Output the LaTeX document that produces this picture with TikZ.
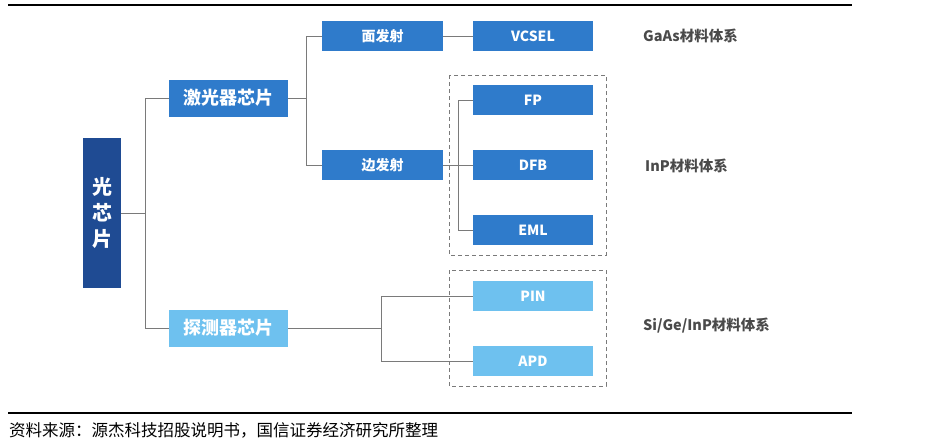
\documentclass[tikz,border=0pt]{standalone}
\usepackage{fontspec}
\setmainfont{Noto Sans CJK SC}
\usetikzlibrary{positioning}

\definecolor{chip_dark}{HTML}{1F4B93}
\definecolor{chip_mid}{HTML}{2F7BCB}
\definecolor{chip_light}{HTML}{6EC1EF}
\definecolor{line_gray}{HTML}{7A7A7A}
\definecolor{text_gray}{HTML}{4A4A4A}

\begin{document}
\begin{tikzpicture}[
  x=1pt, y=-1pt,
  root_box/.style={rectangle, fill=chip_dark, text=white, minimum width=38pt, minimum height=150pt, inner sep=0pt, align=center, font=\fontsize{20}{26}\selectfont\bfseries},
  mid_box/.style={rectangle, fill=chip_mid, text=white, minimum width=119pt, minimum height=37pt, inner sep=0pt, font=\fontsize{18}{20}\selectfont\bfseries},
  det_box/.style={mid_box, fill=chip_light},
  leaf_box/.style={rectangle, fill=chip_mid, text=white, minimum width=121pt, minimum height=30pt, inner sep=0pt, font=\fontsize{14}{16}\selectfont\bfseries},
  light_leaf/.style={leaf_box, fill=chip_light},
  link_line/.style={draw=line_gray, line width=0.9pt},
  group_frame/.style={draw=line_gray, dash pattern=on 4pt off 3pt, line width=0.9pt},
  side_note/.style={right, text=text_gray, inner sep=0pt, font=\fontsize{14.5}{16}\selectfont\bfseries},
]
\useasboundingbox (0,0) rectangle (948,445);

% rules
\draw[line width=1.2pt] (8,5) -- (852,5);
\draw[line width=1.2pt] (8,413) -- (852,413);

% tree
\node (chip) [root_box] at (102,213) {光\\芯\\片};
\node (laser) [mid_box] at (228.5,98) {激光器芯片};
\node (detector) [det_box] at (228.5,328) {探测器芯片};
\node (surface) [leaf_box] at (382.5,36) {面发射};
\node (edge) [leaf_box] at (382.5,165) {边发射};
\node (vcsel) [leaf_box, minimum width=120pt] at (533,36) {VCSEL};
\node (fp) [leaf_box, minimum width=120pt] at (533,100) {FP};
\node (dfb) [leaf_box, minimum width=120pt] at (533,165) {DFB};
\node (eml) [leaf_box, minimum width=120pt] at (533,230) {EML};
\node (pin) [light_leaf, minimum width=120pt] at (533,296) {PIN};
\node (apd) [light_leaf, minimum width=120pt] at (533,361) {APD};

% groups
\draw[group_frame] (449,75) rectangle (606,255);
\draw[group_frame] (449,270) rectangle (606,386);

% links
\draw[link_line] (chip.east) -- ++(24,0) |- (laser.west);
\draw[link_line] (chip.east) -- ++(24,0) |- (detector.west);
\draw[link_line] (laser.east) -- ++(18,0) |- (surface.west);
\draw[link_line] (laser.east) -- ++(18,0) |- (edge.west);
\draw[link_line] (surface.east) -- (vcsel.west);
\draw[link_line] (edge.east) -- (dfb.west);
\draw[link_line] (fp.west) -- ++(-14,0) |- (eml.west);
\draw[link_line] (detector.east) -- ++(93,0) |- (pin.west);
\draw[link_line] (detector.east) -- ++(93,0) |- (apd.west);

% material notes
\node (gaas) [side_note] at (643,36) {GaAs材料体系};
\node (inp) [side_note] at (645,166) {InP材料体系};
\node (sige) [side_note] at (643,326) {Si/Ge/InP材料体系};

% source
\node (source) [right, inner sep=0pt, font=\fontsize{16.5}{18}\selectfont] at (9,430) {资料来源：源杰科技招股说明书，国信证券经济研究所整理};
\end{tikzpicture}
\end{document}
